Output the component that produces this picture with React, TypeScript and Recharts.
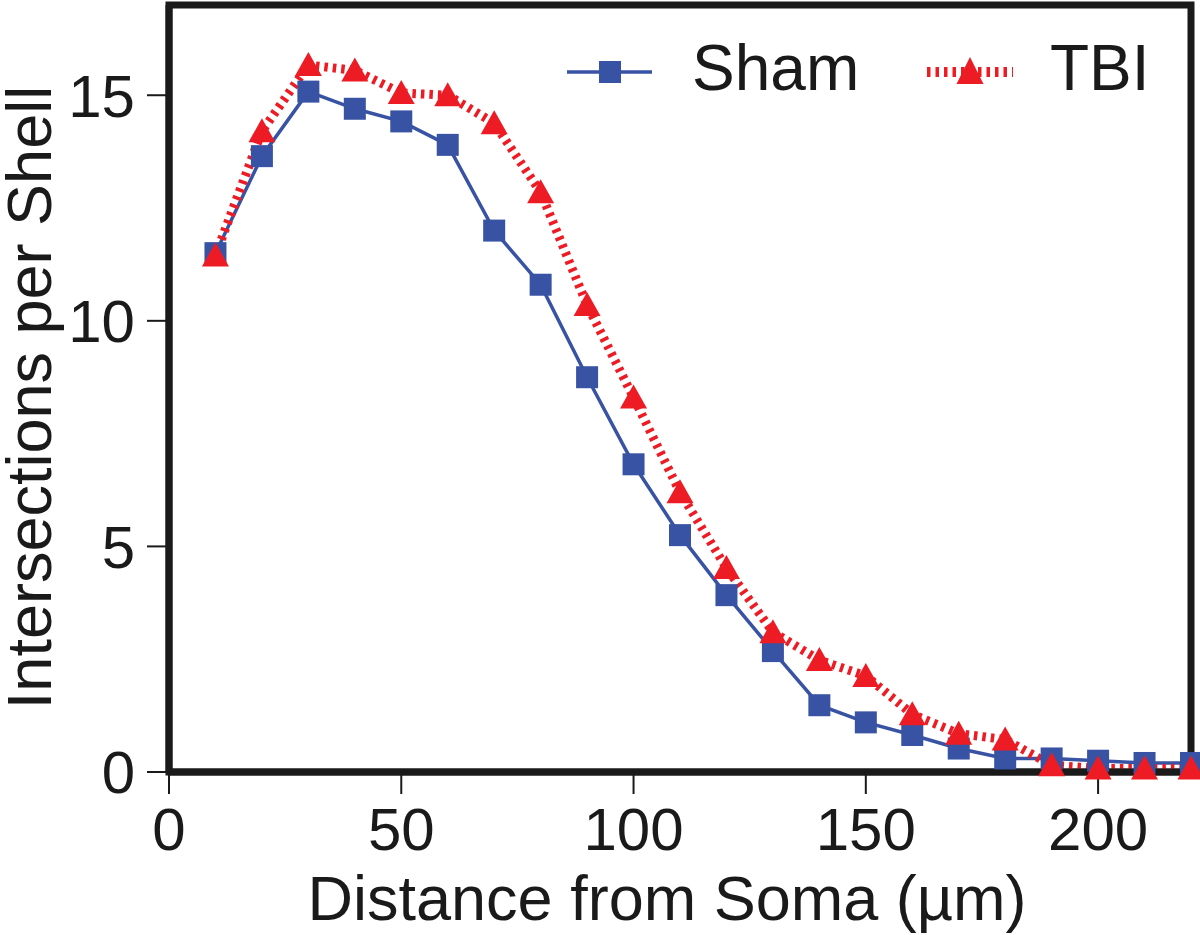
import { LineChart, Line, XAxis, YAxis, ReferenceArea } from "recharts";

// Sholl analysis: intersections per shell vs distance from soma.
const distances = [10, 20, 30, 40, 50, 60, 70, 80, 90, 100, 110, 120, 130, 140, 150, 160, 170, 180, 190, 200, 210, 220];
const shamValues = [11.5, 13.65, 15.08, 14.7, 14.42, 13.9, 12.0, 10.8, 8.75, 6.82, 5.25, 3.92, 2.68, 1.48, 1.1, 0.82, 0.52, 0.3, 0.3, 0.25, 0.2, 0.2];
const tbiValues = [11.45, 14.2, 15.67, 15.55, 15.05, 15.0, 14.38, 12.85, 10.35, 8.3, 6.2, 4.52, 3.1, 2.48, 2.13, 1.28, 0.85, 0.72, 0.15, 0.08, 0.08, 0.08];
const xTicks = [0, 50, 100, 150, 200];
const yTicks = [0, 5, 10, 15];

const BLUE = "#3953a4";
const RED = "#ed1c24";
const INK = "#1a1a1a";
const FONT = "'Liberation Sans', Arial, Helvetica, sans-serif";
const RED_DASH = "3.5 5";

const data = distances.map((d, i) => ({
  distance: d,
  sham: shamValues[i],
  tbi: tbiValues[i],
}));

function SquareDot(props: any) {
  const { cx, cy, index } = props;
  if (cx == null || cy == null) return <g key={`sq-${index}`} />;
  return <rect key={`sq-${index}`} x={cx - 11} y={cy - 11} width={22} height={22} fill={BLUE} />;
}

function TriangleDot(props: any) {
  const { cx, cy, index } = props;
  if (cx == null || cy == null) return <g key={`tr-${index}`} />;
  return (
    <polygon
      key={`tr-${index}`}
      points={`${cx},${cy - 13} ${cx + 13.5},${cy + 11} ${cx - 13.5},${cy + 11}`}
      fill={RED}
    />
  );
}

// legend sits inside the plot frame, top right
function LegendOverlay() {
  return (
    <svg
      width={1200}
      height={140}
      style={{ position: "absolute", left: 0, top: 0, pointerEvents: "none" }}
    >
      <g>
        <line x1={567} y1={72} x2={652} y2={72} stroke={BLUE} strokeWidth={3.5} />
        <rect x={599} y={61} width={22} height={22} fill={BLUE} />
        <text x={692} y={90} fontSize={64} fontFamily={FONT} fill={INK}>
          Sham
        </text>
      </g>
      <g>
        <line x1={927} y1={72} x2={1013} y2={72} stroke={RED} strokeWidth={10} strokeDasharray={RED_DASH} />
        <polygon points="970,57 983.5,84 956.5,84" fill={RED} />
        <text x={1050} y={90} fontSize={64} fontFamily={FONT} fill={INK}>
          TBI
        </text>
      </g>
    </svg>
  );
}

export default function App() {
  const tickStyle = { fill: INK, fontSize: 60, fontFamily: FONT };
  return (
    <div
      style={{
        position: "absolute",
        left: 0,
        top: 0,
        width: 1200,
        height: 935,
        background: "#fff",
      }}
    >
      <LineChart
        width={1200}
        height={935}
        data={data}
        margin={{ top: 5, right: 9, bottom: 0, left: 0 }}
      >
        <ReferenceArea
          x1={0}
          x2={220}
          y1={0}
          y2={17}
          fill="none"
          stroke={INK}
          strokeWidth={7}
        />
        <XAxis
          dataKey="distance"
          type="number"
          domain={[0, 220]}
          ticks={xTicks}
          height={163}
          tick={tickStyle}
          tickSize={22}
          tickMargin={13}
          tickLine={{ stroke: INK, strokeWidth: 2 }}
          axisLine={{ stroke: INK, strokeWidth: 7 }}
          label={{
            content: ({ viewBox }: any) => (
              <text
                x={viewBox.x + viewBox.width / 2 - 13}
                y={920}
                textAnchor="middle"
                fontSize={63}
                fontFamily={FONT}
                fill={INK}
              >
                Distance from Soma (µm)
              </text>
            ),
          }}
        />
        <YAxis
          type="number"
          domain={[0, 17]}
          ticks={yTicks}
          width={169}
          tick={tickStyle}
          tickSize={22}
          tickMargin={12}
          tickLine={{ stroke: INK, strokeWidth: 2 }}
          axisLine={{ stroke: INK, strokeWidth: 7 }}
          label={{
            content: ({ viewBox }: any) => {
              const cy = viewBox.y + viewBox.height / 2 + 9;
              return (
                <text
                  x={51}
                  y={cy}
                  transform={`rotate(-90 51 ${cy})`}
                  textAnchor="middle"
                  fontSize={63}
                  fontFamily={FONT}
                  fill={INK}
                >
                  Intersections per Shell
                </text>
              );
            },
          }}
        />
        <Line
          dataKey="sham"
          stroke={BLUE}
          strokeWidth={3.5}
          dot={SquareDot}
          activeDot={false}
          isAnimationActive={false}
        />
        <Line
          dataKey="tbi"
          stroke={RED}
          strokeWidth={9}
          strokeDasharray={RED_DASH}
          dot={TriangleDot}
          activeDot={false}
          isAnimationActive={false}
        />
      </LineChart>
      <LegendOverlay />
    </div>
  );
}
